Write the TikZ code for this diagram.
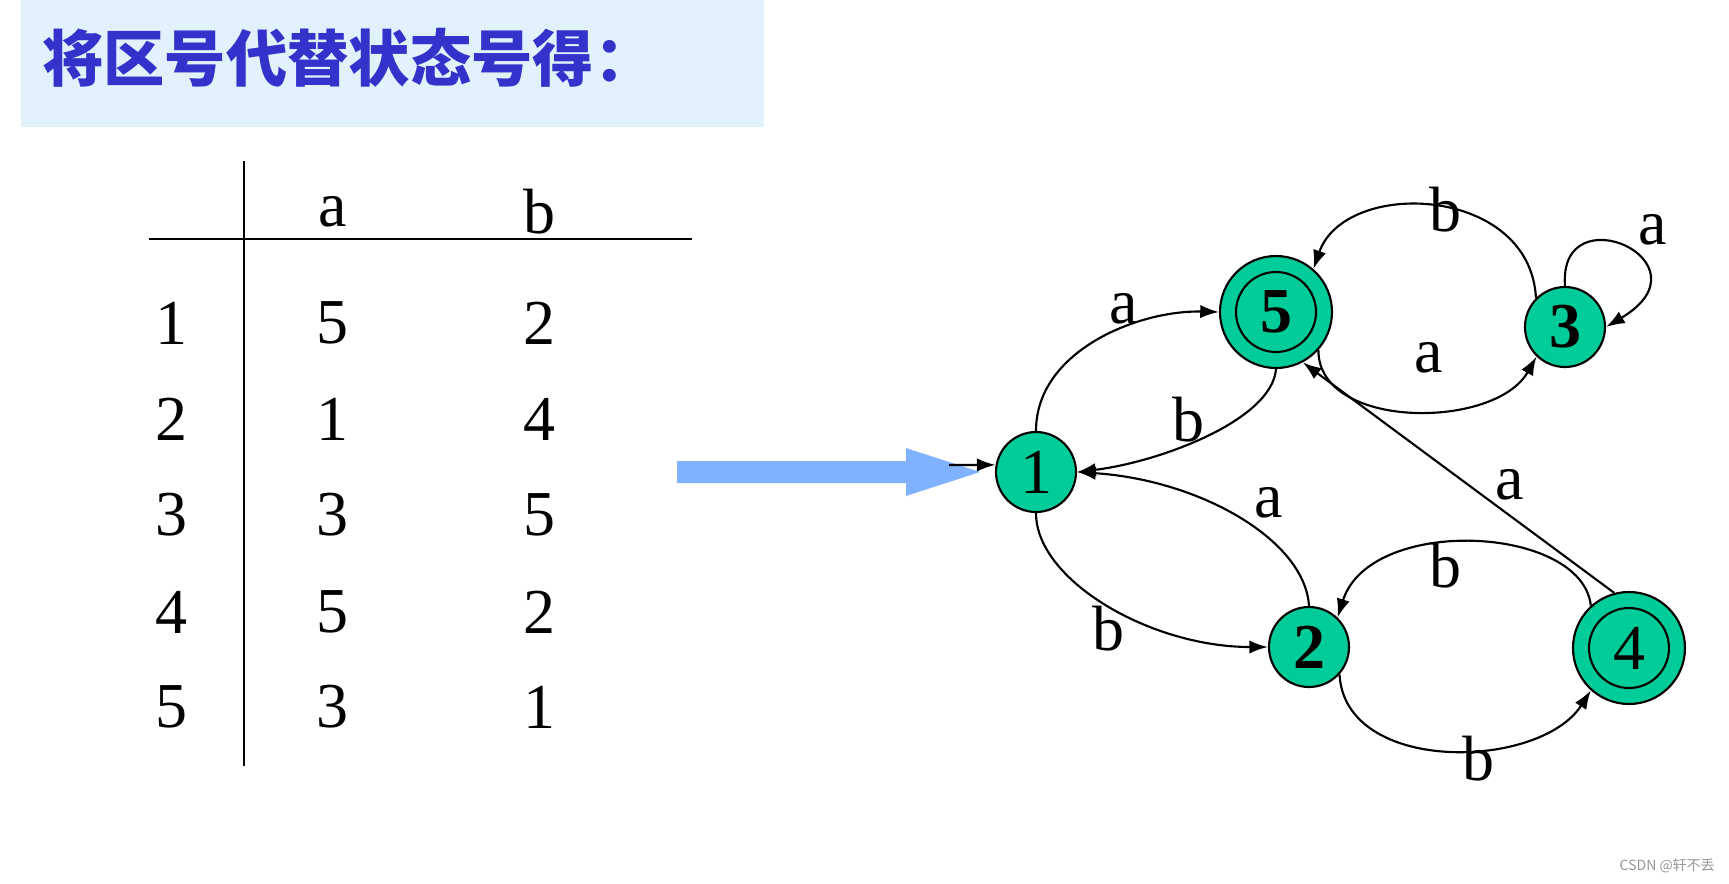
\documentclass[tikz,border=0pt]{standalone}
\usepackage{fontspec}
\setmainfont{Liberation Serif}
\newfontfamily\cjk{Noto Sans CJK SC}
\usetikzlibrary{arrows.meta}
\definecolor{titlebg}{RGB}{225,242,253}
\definecolor{titleblue}{RGB}{51,51,204}
\definecolor{stateg}{RGB}{0,204,153}
\definecolor{arrowblue}{RGB}{128,178,255}
\definecolor{wmgray}{RGB}{150,150,150}
\tikzset{
  state/.style={circle, draw, line width=1.6pt, fill=stateg, minimum size=60pt, inner sep=0pt, font=\fontsize{48}{50}\selectfont},
  accstate/.style={state, minimum size=84pt, path picture={\draw[line width=1.6pt] (path picture bounding box.center) circle[radius=30pt];}},
  edge/.style={line width=1.6pt, -{Latex[length=14pt,width=10pt]}},
  lbl/.style={font=\fontsize{48}{50}\selectfont, inner sep=0pt},
  cell/.style={font=\fontsize{48}{50}\selectfont, inner sep=0pt},
  tline/.style={line width=1.2pt}
}
\begin{document}
\begin{tikzpicture}[x=0.75pt,y=-0.75pt]
\useasboundingbox (0,0) rectangle (1729,883);
% title
\fill[titlebg] (21,0) rectangle (764,127);
\node[anchor=west, text=titleblue, font=\cjk\bfseries\fontsize{46}{50}\selectfont, inner sep=0pt] (title) at (42,58) {将区号代替状态号得：};
% table
\draw[tline] (244,161) -- (244,766);
\draw[tline] (149,239) -- (692,239);
\node[cell] (ha) at (333,212) {a};
\node[cell] (hb) at (539,212) {b};
\foreach \r/\a/\b/\y in {1/5/2/323, 2/1/4/419, 3/3/5/515, 4/5/2/612, 5/3/1/707}{
  \node[cell] (r\r) at (171,\y) {\r};
  \node[cell] (a\r) at (332,\y) {\a};
  \node[cell] (b\r) at (539,\y) {\b};
}
% big blue arrow
\fill[arrowblue] (677,461) -- (906,461) -- (906,448) -- (980,472) -- (906,496) -- (906,483) -- (677,483) -- cycle;
% states
\node[state] (n1) at (1036,472) {1};
\node[accstate, font=\fontsize{48}{50}\selectfont\bfseries] (n5) at (1276,312) {5};
\node[state, font=\fontsize{48}{50}\selectfont\bfseries] (n3) at (1565,327) {3};
\node[state, font=\fontsize{48}{50}\selectfont\bfseries] (n2) at (1309,647) {2};
\node[accstate] (n4) at (1629,648) {4};
% initial arrow
\coordinate (init) at (949,465);
\draw[edge] (init) -- (n1.170);
% transitions
\draw[edge] (n1.90) .. controls (1036,350) and (1140,310) .. (n5.180);
\draw[edge] (n5.270) .. controls (1272,420) and (1160,462) .. (n1.0);
\draw[edge] (n2.90) .. controls (1305,540) and (1200,480) .. (n1.0);
\draw[edge] (n1.270) .. controls (1036,580) and (1150,647) .. (n2.180);
\draw[edge] (n5.-42) .. controls (1318,430) and (1495,430) .. (n3.-134);
\draw[edge] (n3.135) .. controls (1530,185) and (1345,178) .. (n5.49);
\draw[edge] (n3.90) .. controls (1558,192) and (1715,262) .. (n3.0);
\draw[edge] (n4.105) -- (n5.-62);
\draw[edge] (n4.132) .. controls (1582,525) and (1370,515) .. (n2.46);
\draw[edge] (n2.-42) .. controls (1345,775) and (1540,770) .. (n4.-132);
% labels
\node[lbl] (l15) at (1124,309) {a};
\node[lbl] (l51) at (1188,420) {b};
\node[lbl] (l21) at (1269,503) {a};
\node[lbl] (l12) at (1108,629) {b};
\node[lbl] (l53) at (1429,358) {a};
\node[lbl] (l35) at (1445,210) {b};
\node[lbl] (l33) at (1653,230) {a};
\node[lbl] (l45) at (1510,485) {a};
\node[lbl] (l42) at (1445,566) {b};
\node[lbl] (l24) at (1478,759) {b};
% watermark
\node[anchor=east, text=wmgray, font=\cjk\fontsize{10.5}{12}\selectfont, inner sep=0pt] (wm) at (1715,866) {CSDN @轩不丢};
\end{tikzpicture}
\end{document}
